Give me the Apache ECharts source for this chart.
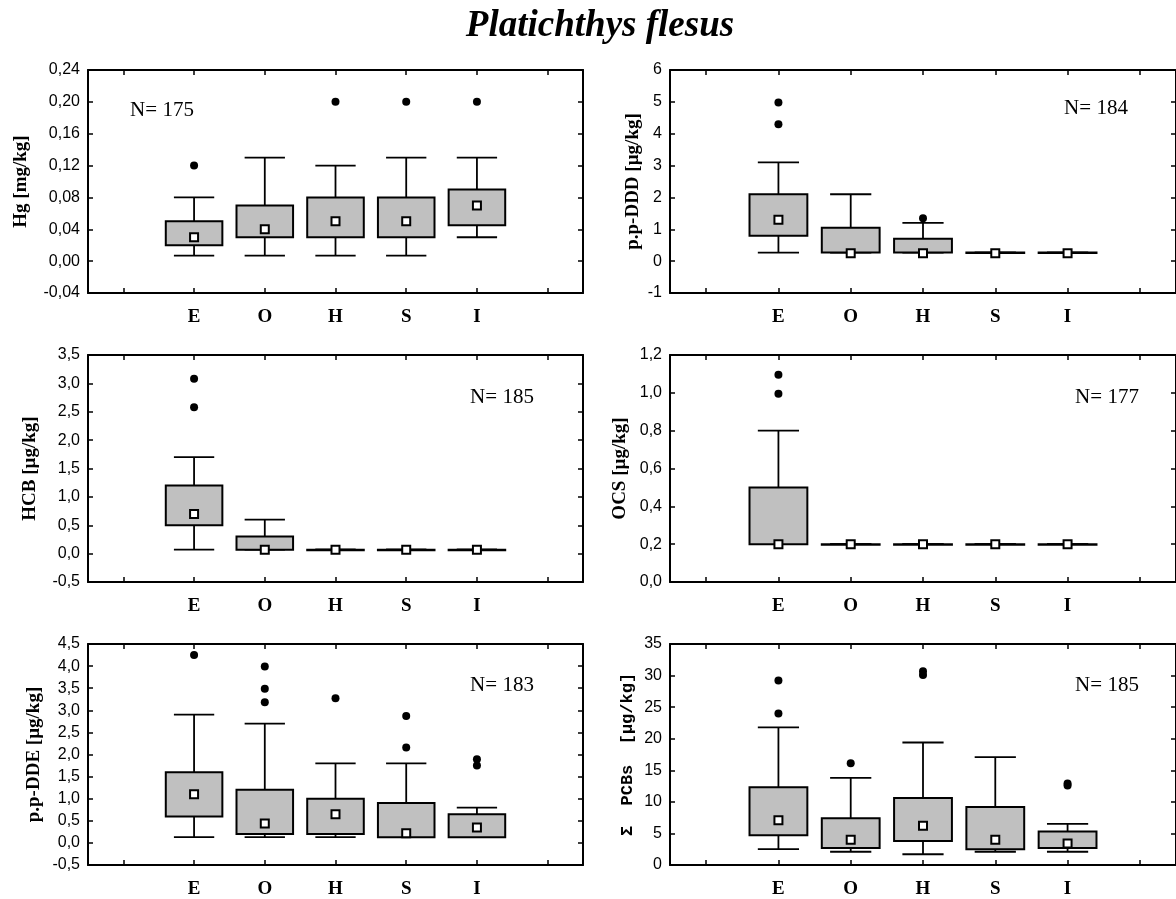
<!DOCTYPE html>
<html><head><meta charset="utf-8">
<script src="https://cdn.jsdelivr.net/npm/echarts@6.0.0/dist/echarts.min.js"></script>
<style>html,body{margin:0;padding:0;background:#fff}#c{width:1176px;height:899px}</style>
</head><body><div id="c"></div>
<script>
// Categories (blank slots at both ends as in the original plot)
const categories = ['', 'E', 'O', 'H', 'S', 'I', ''];
const chartTitle = 'Platichthys flesus';

// Box values per category E,O,H,S,I: [low whisker, Q1, median, Q3, high whisker]
const hgBox  = [[0.007,0.02,0.03,0.05,0.08],[0.007,0.03,0.04,0.07,0.13],[0.007,0.03,0.05,0.08,0.12],[0.007,0.03,0.05,0.08,0.13],[0.03,0.045,0.07,0.09,0.13]];
const hgOut  = [[1,0.12],[3,0.2],[4,0.2],[5,0.2]];
const dddBox = [[0.27,0.8,1.3,2.1,3.1],[0.27,0.27,0.25,1.05,2.1],[0.27,0.27,0.25,0.7,1.2],[0.27,0.27,0.25,0.27,0.27],[0.27,0.27,0.25,0.27,0.27]];
const dddOut = [[1,4.98],[1,4.3],[3,1.35]];
const hcbBox = [[0.07,0.5,0.7,1.2,1.7],[0.07,0.07,0.07,0.3,0.6],[0.07,0.07,0.07,0.07,0.07],[0.07,0.07,0.07,0.07,0.07],[0.07,0.07,0.07,0.07,0.07]];
const hcbOut = [[1,3.08],[1,2.58]];
const ocsBox = [[0.2,0.2,0.2,0.5,0.8],[0.2,0.2,0.2,0.2,0.2],[0.2,0.2,0.2,0.2,0.2],[0.2,0.2,0.2,0.2,0.2],[0.2,0.2,0.2,0.2,0.2]];
const ocsOut = [[1,1.095],[1,0.995]];
const ddeBox = [[0.13,0.6,1.1,1.6,2.9],[0.13,0.2,0.44,1.2,2.7],[0.13,0.2,0.65,1.0,1.8],[0.13,0.13,0.22,0.9,1.8],[0.13,0.13,0.35,0.65,0.8]];
const ddeOut = [[1,4.25],[2,3.99],[2,3.49],[2,3.18],[3,3.27],[4,2.87],[4,2.16],[5,1.89],[5,1.75]];
const pcbBox = [[2.5,4.7,7.1,12.3,21.8],[2.1,2.7,4.0,7.4,13.8],[1.7,3.8,6.2,10.6,19.4],[2.1,2.5,4.0,9.2,17.1],[2.1,2.7,3.4,5.3,6.5]];
const pcbOut = [[1,29.2],[1,24.0],[2,16.1],[3,30.7],[3,30.1],[5,12.9],[5,12.6]];

// Axis names, ranges, sample sizes
const yNames   = ['Hg [mg/kg]', 'p.p-DDD [µg/kg]', 'HCB [µg/kg]', 'OCS [µg/kg]', 'p.p-DDE [µg/kg]', 'Σ  PCBs  [µg/kg]'];
const yMins    = [-0.04, -1, -0.5, 0, -0.5, 0];
const yMaxs    = [0.24, 6, 3.5, 1.2, 4.5, 35];
const yStep    = [0.04, 1, 0.5, 0.2, 0.5, 5];
const yDecimals= [2, 0, 1, 1, 1, 0];
const nCounts  = [175, 184, 185, 177, 183, 185];

const boxes = [hgBox, dddBox, hcbBox, ocsBox, ddeBox, pcbBox];
const outs  = [hgOut, dddOut, hcbOut, ocsOut, ddeOut, pcbOut];

// layout
const gridPos = [
  {left:88, top:70, width:495, height:223},
  {left:670, top:70, width:514, height:223},
  {left:88, top:355, width:495, height:227},
  {left:670, top:355, width:514, height:227},
  {left:88, top:644, width:495, height:224},
  {left:670, top:644, width:514, height:224}
];
const nameGaps = [57, 27, 48, 40, 44, 34];
const nPos = [[162,110],[1096,108],[502,397],[1107,397],[502,685],[1107,685]];

function boxRender(params, api) {
  const xi = api.value(0);
  const band = api.size([1, 0])[0];
  const bw = band * 0.8, cw = band * 0.57;
  const yLow = api.coord([xi, api.value(1)])[1];
  const yQ1 = api.coord([xi, api.value(2)])[1];
  const pMed = api.coord([xi, api.value(3)]);
  const yQ3 = api.coord([xi, api.value(4)])[1];
  const yHigh = api.coord([xi, api.value(5)])[1];
  const cx = pMed[0];
  const ls = {stroke:'#000', lineWidth:1.8};
  return {type:'group', children:[
    {type:'line', shape:{x1:cx,y1:yHigh,x2:cx,y2:yQ3}, style:ls},
    {type:'line', shape:{x1:cx,y1:yQ1,x2:cx,y2:yLow}, style:ls},
    {type:'line', shape:{x1:cx-cw/2,y1:yHigh,x2:cx+cw/2,y2:yHigh}, style:ls},
    {type:'line', shape:{x1:cx-cw/2,y1:yLow,x2:cx+cw/2,y2:yLow}, style:ls},
    {type:'rect', shape:{x:cx-bw/2,y:yQ3,width:bw,height:Math.max(yQ1-yQ3,0.5)}, style:{fill:'#c0c0c0',stroke:'#000',lineWidth:2}},
    {type:'rect', shape:{x:cx-4,y:pMed[1]-4,width:8,height:8}, style:{fill:'#fff',stroke:'#000',lineWidth:2}}
  ]};
}

const grids = [], xAxes = [], yAxes = [], series = [], graphics = [];
const axisLineStyle = {color:'#000', width:2};
const tickStyle = {color:'#000', width:1.5};
for (let k = 0; k < 6; k++) {
  grids.push(Object.assign({show:false, containLabel:false}, gridPos[k]));
  const xBase = {type:'category', gridIndex:k, data:categories, boundaryGap:true,
    axisLine:{show:true, onZero:false, lineStyle:axisLineStyle},
    axisTick:{show:true, inside:true, alignWithLabel:true, interval:0, length:5, lineStyle:tickStyle},
    splitLine:{show:false}};
  xAxes.push(Object.assign({}, xBase, {position:'bottom',
    axisLabel:{interval:0, margin:15, color:'#000', fontFamily:'Liberation Serif', fontWeight:'bold', fontSize:19}}));
  xAxes.push(Object.assign({}, xBase, {position:'top', axisLabel:{show:false}}));
  const dec = yDecimals[k];
  const yBase = {type:'value', gridIndex:k, min:yMins[k], max:yMaxs[k], interval:yStep[k],
    axisLine:{show:true, onZero:false, lineStyle:axisLineStyle},
    axisTick:{show:true, inside:true, length:5, lineStyle:tickStyle},
    splitLine:{show:false}};
  yAxes.push(Object.assign({}, yBase, {position:'left',
    axisLabel:{margin:8, color:'#000', fontFamily:'Liberation Sans', fontSize:16,
      formatter: v => Number(v).toFixed(dec).replace('.', ',')},
    name: yNames[k], nameLocation:'middle', nameRotate:90, nameGap:nameGaps[k],
    nameTextStyle:{color:'#000', fontFamily: k===5 ? 'Liberation Mono' : 'Liberation Serif', fontWeight:'bold', fontSize: k===5 ? 17 : 19}}));
  yAxes.push(Object.assign({}, yBase, {position:'right', axisLabel:{show:false}}));
  series.push({type:'custom', xAxisIndex:2*k, yAxisIndex:2*k, renderItem:boxRender,
    encode:{x:0, y:[1,2,3,4,5]}, data: boxes[k].map((b,i)=>[i+1].concat(b)), z:2});
  series.push({type:'scatter', xAxisIndex:2*k, yAxisIndex:2*k, symbol:'circle', symbolSize:8,
    itemStyle:{color:'#000', opacity:1}, data: outs[k], z:3});
  graphics.push({type:'text', x:nPos[k][0], y:nPos[k][1],
    style:{text:'N= ' + nCounts[k], fill:'#000', font:'21px "Liberation Serif"', align:'center', verticalAlign:'middle'}});
}
graphics.push({type:'text', x:600, y:26,
  style:{text:chartTitle, fill:'#000', font:'italic bold 37px "Liberation Serif"', align:'center', verticalAlign:'middle'}});

const chart = echarts.init(document.getElementById('c'), null, {renderer:'canvas'});
chart.setOption({animation:false, backgroundColor:'#fff', grid:grids, xAxis:xAxes, yAxis:yAxes, series:series, graphic:graphics});
</script>
</body></html>
